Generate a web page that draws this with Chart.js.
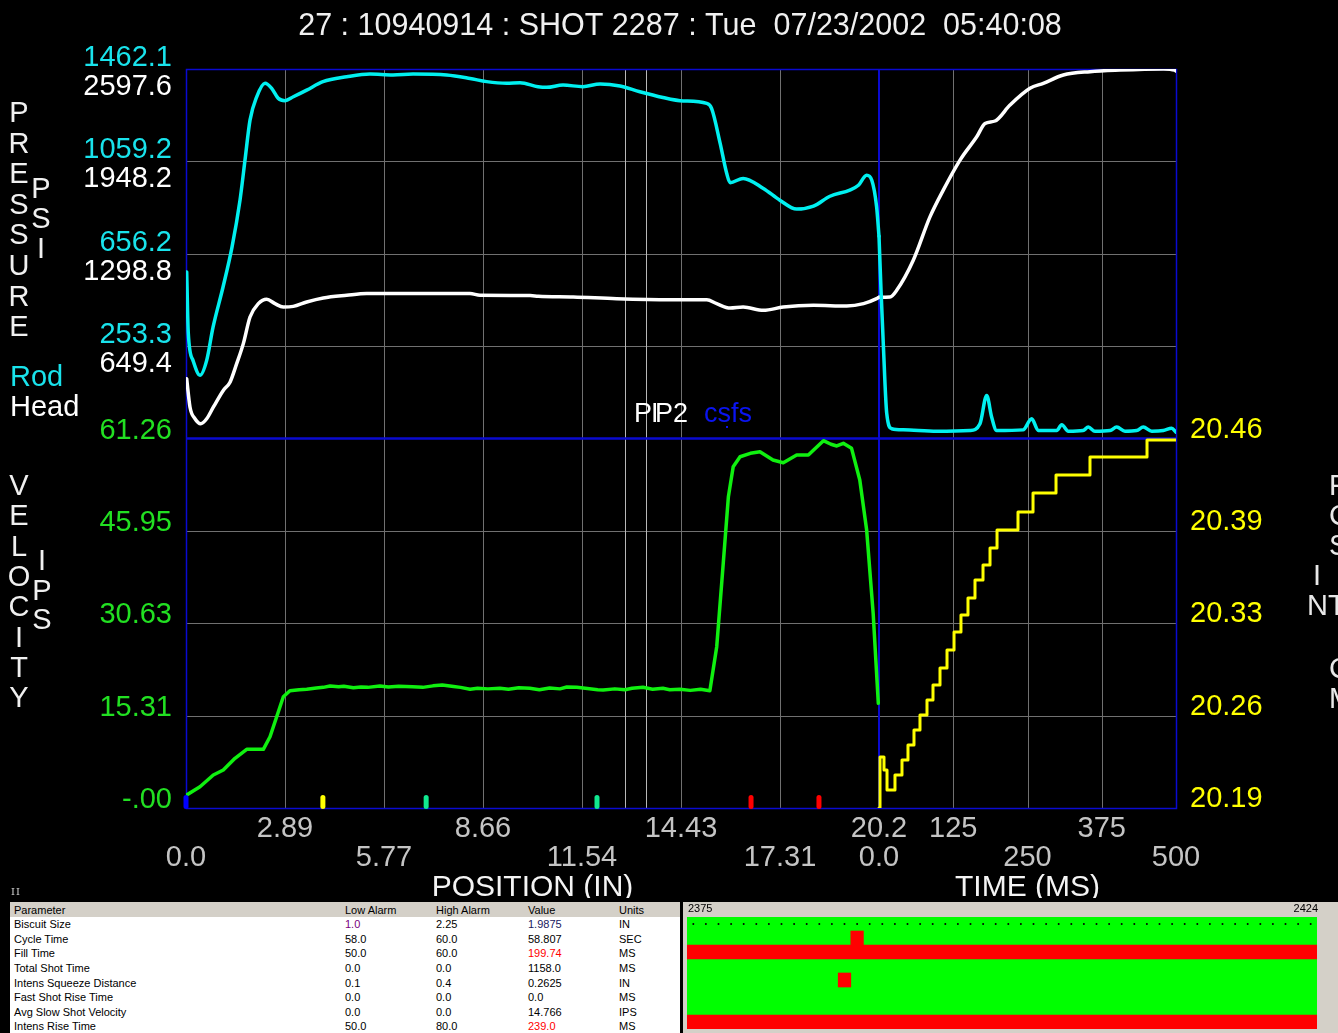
<!DOCTYPE html>
<html>
<head>
<meta charset="utf-8">
<title>Shot 2287 trace</title>
<script src="https://cdn.jsdelivr.net/npm/chart.js@4.4.1/dist/chart.umd.min.js"></script>
<style>
  html, body { margin: 0; padding: 0; background: #000; width: 1338px; height: 1033px; overflow: hidden;
               font-family: "Liberation Sans", Arial, sans-serif; }
  #main { position: absolute; left: 0; top: 0; }
  #mark { position: absolute; left: 11px; top: 886px; font: 10px "DejaVu Serif", serif; color: #d0d0d0; letter-spacing: 1px; }
  #tbl { position: absolute; left: 10px; top: 902px; width: 670px; height: 131px; background: #fff; overflow: hidden; }
  #tbl table { border-collapse: collapse; table-layout: fixed; width: 670px; font-size: 11px; color: #000; }
  #tbl th { background: #d4d0c8; font-weight: normal; text-align: left; height: 15px; padding: 0 0 0 4px; }
  #tbl td { height: 14.6px; padding: 0 0 0 4px; line-height: 14px; white-space: nowrap; }
  #tbl .purple { color: #7a0080; }
  #tbl .navy { color: #202060; }
  #tbl .red { color: #ff0000; }
  #stat { position: absolute; left: 683px; top: 902px; width: 655px; height: 131px; background: #d4d0c8; }
</style>
</head>
<body>
<canvas id="main" width="1338" height="898"></canvas>
<div id="mark">II</div>
<div id="tbl">
  <table>
    <colgroup><col style="width:331px"><col style="width:91px"><col style="width:92px"><col style="width:91px"><col style="width:65px"></colgroup>
    <thead><tr><th>Parameter</th><th>Low Alarm</th><th>High Alarm</th><th>Value</th><th>Units</th></tr></thead>
    <tbody id="rows"></tbody>
  </table>
</div>
<canvas id="stat" width="655" height="131"></canvas>
<script>
// ---------- shot traces ----------
// Rod-side pressure (psi) against plunger position (in)
const rodPos = [0.02,0.067,0.204,0.408,0.603,0.787,1.078,1.341,1.574,1.720,1.866,2.061,2.303,2.498,2.690,2.886,3.128,3.518,3.993,4.684,5.363,6.034,6.617,7.599,8.278,8.765,9.348,9.736,10.26,10.51,10.99,11.57,12.07,12.65,13.23,13.90,14.40,15.18,15.32,15.57,15.76,15.86,16.24,16.83,17.31,17.80,18.29,18.77,19.35,19.60,19.84,19.99,20.13,20.2];
const rodPsiPos = [577,309,191,126,191,335,510,685,890,1065,1239,1341,1400,1378,1334,1324,1341,1370,1407,1428,1440,1436,1440,1436,1421,1407,1400,1402,1385,1382,1392,1385,1397,1388,1363,1338,1324,1312,1290,1138,1007,966,985,941,890,851,864,907,934,955,999,977,861,733];
// Rod-side pressure (psi) against time after end of stroke (ms)
const rodTime = [0,3.4,7.2,13.0,21.4,40.9,97.1,153.2,170.0,181.3,189.7,198.1,242.4,257.1,268.2,299.2,307.6,318.7,343.4,352.4,363.6,388.9,400.2,414.1,433.8,444.9,459.1,478.6,492.7,500];
const rodPsiTime = [733,497,265,-40,-107,-112,-118,-115,-85,38,-57,-115,-112,-64,-115,-115,-90,-118,-115,-100,-118,-115,-100,-118,-115,-100,-118,-115,-105,-122];
// Head-side pressure (psi) against position
const headPos = [0.02,0.117,0.262,0.429,0.603,0.796,1.087,1.283,1.477,1.671,1.866,2.108,2.353,2.594,2.836,3.128,3.518,4.002,4.684,5.267,6.626,8.278,8.569,10.03,10.27,11.29,12.55,14.11,15.18,15.47,15.86,16.24,16.83,17.41,18.29,19.26,19.75,20.13,20.2];
const headPsiPos = [420,220,139,104,139,220,338,396,526,667,854,948,979,948,924,929,960,988,1007,1019,1019,1019,1007,1005,1000,995,983,976,976,948,917,924,901,924,936,931,948,983,993];
// Head-side pressure (psi) against time
const headTime = [0,18.5,29.8,57.7,85.8,108.2,136.4,164.5,178.5,195.3,220.5,254.2,276.6,310.3,355.2,405.7,478.6,497.6,500];
const headPsiTime = [993,995,1042,1253,1558,1746,1957,2121,2215,2232,2344,2462,2497,2555,2579,2590,2598,2590,2583];
// Plunger velocity (ips) against position
const velPos = [0.02,0.408,0.796,1.087,1.428,1.769,2.254,2.449,2.643,2.837,
  3.03,3.3,3.52,3.8,4.0,4.2,4.45,4.6,4.88,5.1,
  5.3,5.65,5.9,6.2,6.6,6.9,7.2,7.47,7.8,8.0,
  8.28,8.5,8.8,9.15,9.4,9.7,10.02,10.3,10.6,10.9,
  11.1,11.39,11.7,12.0,12.16,12.5,12.8,13.0,13.32,13.6,
  13.9,14.1,14.4,14.7,15.0,15.27,15.47,15.66,15.81,15.95,
  16.15,16.45,16.73,17.11,17.41,17.80,18.14,18.58,18.8,18.97,
  19.16,19.40,19.64,19.84,20.03,20.18];
const velIps = [2.16,3.53,5.47,6.30,8.24,9.73,9.73,11.82,15.14,18.45,
  19.45,19.6,19.68,19.9,20.0,20.23,20.1,20.2,19.94,20.05,
  20.0,20.23,20.05,20.2,20.11,20.0,20.25,20.39,20.15,20.0,
  19.68,19.85,19.75,19.85,19.7,19.95,19.85,19.6,19.9,19.75,
  20.05,20.01,19.8,19.6,19.56,19.75,19.6,19.85,20.01,19.7,
  19.85,19.6,19.68,19.5,19.7,19.45,26.74,40.57,51.61,56.58,
  58.24,58.8,59.07,57.69,57.25,58.52,58.52,60.90,60.3,60.02,
  60.46,59.63,54.38,46.09,32.28,17.36];
// Intensifier position (in) against time, sampled as steps
const intTime = [0,1.7,8.4,13.5,26.9,38.7,48.8,58.9,69.0,80.8,90.9,102.7,114.5,126.3,138.0,149.8,161.6,175.1,186.9,198.7,234.0,259.3,298.0,355.2,451.2,500];
const intInch = [20.19,20.2273,20.2178,20.2032,20.2141,20.2251,20.2360,20.2470,20.2580,20.2689,20.2799,20.2923,20.3055,20.3186,20.3310,20.3435,20.3566,20.3676,20.3800,20.3931,20.4063,20.4202,20.4333,20.4465,20.4589,20.4589];

// Switch points along the stroke (in)
const switchPos = [0, 3.99, 7.0, 11.98, 16.47, 18.45];
const switchColors = ['#0000ff', '#ffff00', '#10e890', '#10e890', '#ff0000', '#ff0000'];
// Phase markers P and P2 (in)
const phasePos = [12.80, 13.41];

// ---------- axis labelling ----------
const rodTicks = [1462.1, 1059.2, 656.2, 253.3];
const headTicks = [2597.6, 1948.2, 1298.8, 649.4];
const velTicks = ['61.26', '45.95', '30.63', '15.31', '-.00'];
const intTicks = ['20.46', '20.39', '20.33', '20.26', '20.19'];
const posTicks = ['0.0', '2.89', '5.77', '8.66', '11.54', '14.43', '17.31', '20.2'];
const timeTicks = [0, 125, 250, 375, 500];
const timeTickLabels = ['0.0', '125', '250', '375', '500'];

const VEL_TOP = 61.26, INT_LOW = 20.19, INT_HIGH = 20.46;
const POS_END = 20.2, TIME_END = 500;
const POS_SHARE = 0.7;   // share of the plot width used by the position trace

const xy = (xs, ys) => xs.map((x, i) => ({ x: x, y: ys[i] }));
const rodStep = (rodTicks[0] - rodTicks[3]) / 3;

const FONT_NUM = '29px "Liberation Sans", Arial, sans-serif';
const FONT_TITLE = '30px "Liberation Sans", Arial, sans-serif';
const FONT_HEAD = '30.5px "Liberation Sans", Arial, sans-serif';

const decor = {
  id: 'decor',
  beforeDatasetsDraw(chart) {
    const { ctx, chartArea: a, scales: s } = chart;
    ctx.save();
    // grid
    ctx.lineWidth = 1;
    ctx.strokeStyle = '#707070';
    const vline = (x) => { x = Math.round(x) + 0.5; ctx.beginPath(); ctx.moveTo(x, a.top); ctx.lineTo(x, a.bottom); ctx.stroke(); };
    const hline = (y) => { y = Math.round(y) + 0.5; ctx.beginPath(); ctx.moveTo(a.left, y); ctx.lineTo(a.right, y); ctx.stroke(); };
    for (let k = 1; k < posTicks.length - 1; k++) vline(s.xPos.getPixelForValue(k * POS_END / (posTicks.length - 1)));
    timeTicks.slice(1, -1).forEach(t => vline(s.xTime.getPixelForValue(t)));
    headTicks.slice(1).forEach(v => hline(s.yHead.getPixelForValue(v)));
    for (let k = 1; k < velTicks.length - 1; k++) hline(s.yVel.getPixelForValue(VEL_TOP * k / (velTicks.length - 1)));
    ctx.strokeStyle = '#b8b8b8';
    phasePos.forEach(p => vline(s.xPos.getPixelForValue(p)));
    // frame and panel dividers
    ctx.strokeStyle = '#0a0ad0';
    ctx.lineWidth = 1.5;
    ctx.strokeRect(a.left + 0.5, a.top + 0.5, a.right - a.left, a.bottom - a.top);
    ctx.lineWidth = 2;
    const xd = s.xPos.getPixelForValue(POS_END);
    ctx.beginPath(); ctx.moveTo(xd, a.top); ctx.lineTo(xd, a.bottom); ctx.stroke();
    const yd = s.yVel.getPixelForValue(VEL_TOP);
    ctx.lineWidth = 2.5;
    ctx.beginPath(); ctx.moveTo(a.left, yd); ctx.lineTo(a.right, yd); ctx.stroke();
    ctx.restore();
  },
  afterDatasetsDraw(chart) {
    const { ctx, chartArea: a, scales: s } = chart;
    ctx.save();
    // switch point markers on the position axis
    switchPos.forEach((p, i) => {
      const x = s.xPos.getPixelForValue(p);
      ctx.fillStyle = switchColors[i];
      ctx.beginPath();
      ctx.roundRect(x - 2.5, a.bottom - 13, 5, 14, 2.5);
      ctx.fill();
    });
    ctx.restore();
  },
  afterDraw(chart) {
    const { ctx, chartArea: a, scales: s } = chart;
    ctx.save();
    ctx.textBaseline = 'middle';
    // title
    ctx.font = FONT_HEAD;
    ctx.fillStyle = '#f0f0f0';
    ctx.textAlign = 'center';
    ctx.fillText('27 : 10940914 : SHOT 2287 : Tue  07/23/2002  05:40:08', 680, 27);

    // pressure scales (rod above, head below each gridline)
    ctx.font = FONT_NUM;
    ctx.textAlign = 'right';
    rodTicks.forEach((v, i) => {
      const y = s.yRod.getPixelForValue(v);
      ctx.fillStyle = '#19e3ec';
      ctx.fillText(v.toFixed(1), 172, y - 11);
      ctx.fillStyle = '#ffffff';
      ctx.fillText(headTicks[i].toFixed(1), 172, s.yHead.getPixelForValue(headTicks[i]) + 18);
    });
    // velocity scale
    ctx.fillStyle = '#22e022';
    velTicks.forEach((t, k) => {
      const y = s.yVel.getPixelForValue(VEL_TOP * (velTicks.length - 1 - k) / (velTicks.length - 1));
      ctx.fillText(t, 172, y - 8);
    });
    // intensifier scale
    ctx.textAlign = 'left';
    ctx.fillStyle = '#ffff00';
    intTicks.forEach((t, k) => {
      const v = INT_LOW + (INT_HIGH - INT_LOW) * (intTicks.length - 1 - k) / (intTicks.length - 1);
      ctx.fillText(t, 1190, s.yInt.getPixelForValue(v) - 9);
    });

    // position / time ticks, staggered on two rows
    ctx.textAlign = 'center';
    ctx.fillStyle = '#c4c4c4';
    posTicks.forEach((t, k) => {
      const x = s.xPos.getPixelForValue(k * POS_END / (posTicks.length - 1));
      ctx.fillText(t, x, k % 2 ? 829 : 858);
    });
    timeTicks.forEach((t, k) => {
      const x = s.xTime.getPixelForValue(t);
      ctx.fillText(timeTickLabels[k], x, k % 2 ? 829 : 858);
    });
    ctx.font = FONT_TITLE;
    ctx.fillStyle = '#f4f4f4';
    ctx.fillText('POSITION (IN)', (s.xPos.getPixelForValue(0) + s.xPos.getPixelForValue(POS_END)) / 2, 888);
    ctx.fillText('TIME (MS)', (s.xTime.getPixelForValue(0) + s.xTime.getPixelForValue(TIME_END)) / 2, 888);

    // vertical axis words
    ctx.font = FONT_NUM;
    ctx.fillStyle = '#f0f0f0';
    const column = (word, x, y0, step) => [...word].forEach((ch, i) => ctx.fillText(ch, x, y0 + i * step));
    column('PRESSURE', 19, 114, 30.6);
    column('PSI', 41, 190, 30);
    column('VELOCITY', 19, 487, 30.3);
    column('IPS', 42, 562, 29.5);
    ctx.textAlign = 'left';
    ctx.fillStyle = '#19e3ec';
    ctx.fillText('Rod', 10, 378);
    ctx.fillStyle = '#ffffff';
    ctx.fillText('Head', 10, 408);
    // right-hand axis words, running past the page edge
    ctx.fillStyle = '#e8e8e8';
    [['P', 1329, 487], ['C', 1329, 517], ['S', 1329, 547], ['I', 1313, 577], ['N', 1307, 607], ['T', 1328, 607], ['C', 1329, 670], ['M', 1329, 700]]
      .forEach(([ch, x, y]) => ctx.fillText(ch, x, y));

    // phase labels
    ctx.font = '27px "Liberation Sans", Arial, sans-serif';
    ctx.fillStyle = '#ffffff';
    ctx.fillText('P', 634, 415);
    ctx.fillText('I', 651, 415);
    ctx.fillText('P2', 655, 415);
    ctx.fillStyle = '#0a14f0';
    ctx.fillText('csfs', 704, 415);
    ctx.fillRect(726, 426, 2, 2);
    ctx.restore();
  }
};

new Chart(document.getElementById('main'), {
  type: 'line',
  data: {
    datasets: [
      { label: 'Rod', data: xy(rodPos, rodPsiPos), xAxisID: 'xPos', yAxisID: 'yRod', borderColor: '#00f0f0', borderWidth: 3.5, cubicInterpolationMode: 'monotone' },
      { label: 'Rod', data: xy(rodTime, rodPsiTime), xAxisID: 'xTime', yAxisID: 'yRod', borderColor: '#00f0f0', borderWidth: 3.5, cubicInterpolationMode: 'monotone' },
      { label: 'Head', data: xy(headPos, headPsiPos), xAxisID: 'xPos', yAxisID: 'yHead', borderColor: '#ffffff', borderWidth: 3.5, cubicInterpolationMode: 'monotone' },
      { label: 'Head', data: xy(headTime, headPsiTime), xAxisID: 'xTime', yAxisID: 'yHead', borderColor: '#ffffff', borderWidth: 3.5, cubicInterpolationMode: 'monotone' },
      { label: 'Velocity', data: xy(velPos, velIps), xAxisID: 'xPos', yAxisID: 'yVel', borderColor: '#10f010', borderWidth: 3.5, tension: 0 },
      { label: 'Intensifier', data: xy(intTime, intInch), xAxisID: 'xTime', yAxisID: 'yInt', borderColor: '#ffff00', borderWidth: 3, stepped: 'before' }
    ]
  },
  options: {
    responsive: false,
    animation: false,
    devicePixelRatio: 1,
    parsing: true,
    layout: { padding: { left: 186, top: 69, right: 162, bottom: 90 } },
    elements: { point: { radius: 0 }, line: { borderCapStyle: 'round', borderJoinStyle: 'round' } },
    plugins: { legend: { display: false }, tooltip: { enabled: false } },
    scales: {
      xPos: { type: 'linear', display: false, min: 0, max: POS_END / POS_SHARE },
      xTime: { type: 'linear', display: false, min: -TIME_END * POS_SHARE / (1 - POS_SHARE), max: TIME_END },
      yHead: { type: 'linear', display: false, min: -headTicks[0], max: headTicks[0] },
      yRod: { type: 'linear', display: false, min: rodTicks[0] - 8 * rodStep, max: rodTicks[0] },
      yVel: { type: 'linear', display: false, min: 0, max: 2 * VEL_TOP },
      yInt: { type: 'linear', display: false, min: INT_LOW, max: 2 * INT_HIGH - INT_LOW }
    }
  },
  plugins: [decor]
});

// ---------- parameter table ----------
const params = ['Biscuit Size', 'Cycle Time', 'Fill Time', 'Total Shot Time', 'Intens Squeeze Distance', 'Fast Shot Rise Time', 'Avg Slow Shot Velocity', 'Intens Rise Time'];
const lowAlarm = ['1.0', '58.0', '50.0', '0.0', '0.1', '0.0', '0.0', '50.0'];
const highAlarm = ['2.25', '60.0', '60.0', '0.0', '0.4', '0.0', '0.0', '80.0'];
const values = ['1.9875', '58.807', '199.74', '1158.0', '0.2625', '0.0', '14.766', '239.0'];
const units = ['IN', 'SEC', 'MS', 'MS', 'IN', 'MS', 'IPS', 'MS'];
const outOfRange = [false, false, true, false, false, false, false, true];

document.getElementById('rows').innerHTML = params.map((p, i) =>
  '<tr><td>' + p + '</td><td' + (i === 0 ? ' class="purple"' : '') + '>' + lowAlarm[i] + '</td><td>' + highAlarm[i] +
  '</td><td class="' + (outOfRange[i] ? 'red' : (i === 0 ? 'navy' : '')) + '">' + values[i] + '</td><td>' + units[i] + '</td></tr>').join('');

// ---------- alarm history strip, one column per shot ----------
const firstShot = 2375, lastShot = 2424;
const shots = [];
for (let n = firstShot; n <= lastShot; n++) shots.push(n);
const fullSpan = [firstShot - 0.5, lastShot + 0.5];
const alarmSpans = [null, [2387.5, 2388.5], fullSpan, null, [2386.5, 2387.5], null, null, fullSpan];

const stripLabels = {
  id: 'stripLabels',
  afterDraw(chart) {
    const { ctx, chartArea: a } = chart;
    ctx.save();
    ctx.font = '11px "Liberation Sans", Arial, sans-serif';
    ctx.fillStyle = '#000';
    ctx.textBaseline = 'middle';
    ctx.textAlign = 'left';
    ctx.fillText(String(firstShot), a.left + 1, 7);
    ctx.textAlign = 'right';
    ctx.fillText(String(lastShot), a.right + 1, 7);
    ctx.restore();
  }
};

new Chart(document.getElementById('stat'), {
  type: 'bar',
  data: {
    labels: params,
    datasets: [
      { type: 'scatter', data: shots.map(n => ({ x: n, y: params[0] })), pointRadius: 1, pointBackgroundColor: '#000', pointBorderWidth: 0 },
      { data: alarmSpans, backgroundColor: '#ff0000', borderWidth: 0 },
      { data: params.map(() => fullSpan), backgroundColor: '#00ff00', borderWidth: 0 }
    ]
  },
  options: {
    indexAxis: 'y',
    responsive: false,
    animation: false,
    devicePixelRatio: 1,
    layout: { padding: { left: 4, top: 15, right: 21, bottom: 0 } },
    datasets: { bar: { grouped: false, barPercentage: 1, categoryPercentage: 1 } },
    plugins: { legend: { display: false }, tooltip: { enabled: false } },
    scales: {
      x: { type: 'linear', display: false, min: firstShot - 0.5, max: lastShot + 0.5 },
      y: { type: 'category', display: false }
    }
  },
  plugins: [stripLabels]
});
</script>
</body>
</html>
